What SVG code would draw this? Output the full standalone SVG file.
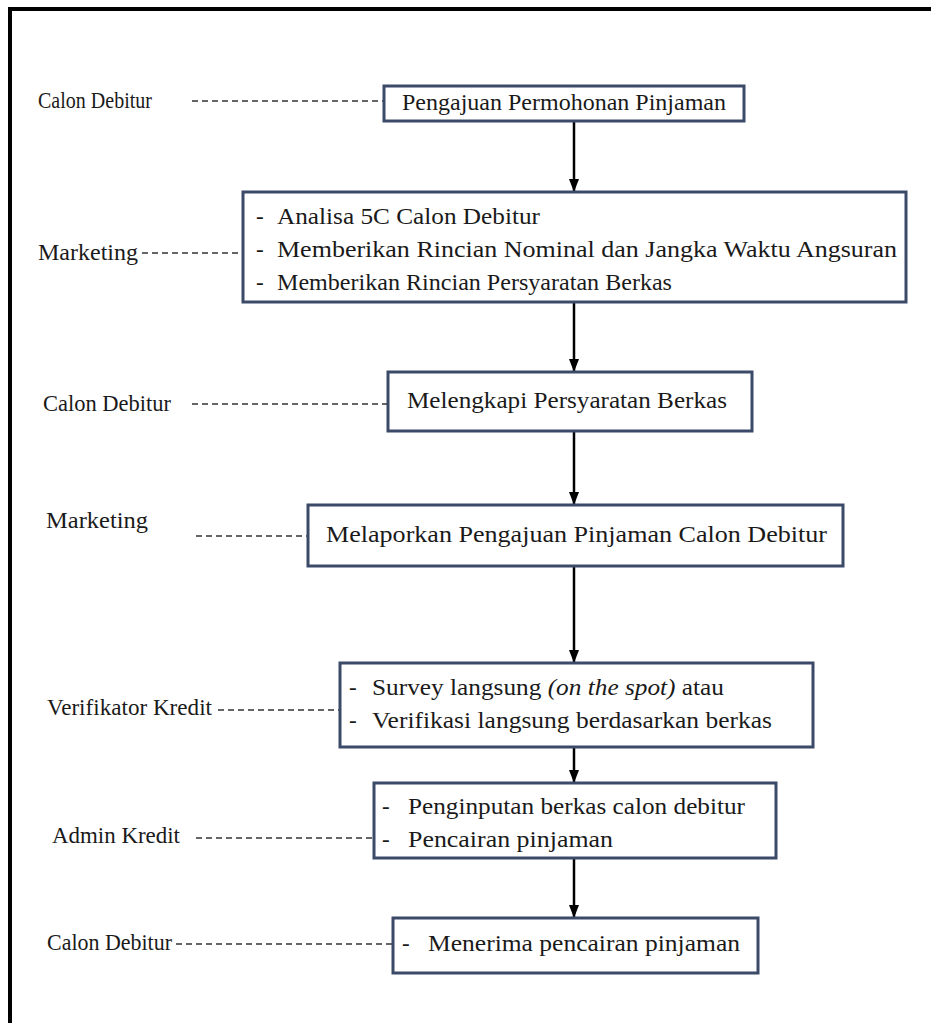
<svg xmlns="http://www.w3.org/2000/svg" width="931" height="1023" viewBox="0 0 931 1023">
<defs>
<marker id="ah" markerWidth="13" markerHeight="10" refX="12" refY="5" orient="auto" markerUnits="userSpaceOnUse" viewBox="0 0 13 10">
<path d="M0,0 L13,5 L0,10 Z" fill="#000"/>
</marker>
<style>
.box{fill:#fff;stroke:#3b4a68;stroke-width:3}
.t{font-family:"Liberation Serif","Times New Roman",Times,serif;font-size:23px;fill:#1a1a1a}
.dash{stroke:#333;stroke-width:1.5;stroke-dasharray:6 4;fill:none}
.arr{stroke:#000;stroke-width:2.5;fill:none}
</style>
</defs>
<rect width="931" height="1023" fill="#fff"/>
<path d="M10,1023 V9 H931" fill="none" stroke="#000" stroke-width="4"/>

<g id="connectors">
<line class="arr" x1="574" y1="121" x2="574" y2="191" marker-end="url(#ah)"/>
<line class="arr" x1="574" y1="302" x2="574" y2="371" marker-end="url(#ah)"/>
<line class="arr" x1="574" y1="431" x2="574" y2="504" marker-end="url(#ah)"/>
<line class="arr" x1="574" y1="566" x2="574" y2="662" marker-end="url(#ah)"/>
<line class="arr" x1="574" y1="747" x2="574" y2="782" marker-end="url(#ah)"/>
<line class="arr" x1="574" y1="858" x2="574" y2="917" marker-end="url(#ah)"/>
<line class="dash" x1="192" y1="101" x2="384" y2="101"/>
<line class="dash" x1="142" y1="253" x2="243" y2="253"/>
<line class="dash" x1="192" y1="404" x2="388" y2="404"/>
<line class="dash" x1="196" y1="536" x2="308" y2="536"/>
<line class="dash" x1="218" y1="710" x2="340" y2="710"/>
<line class="dash" x1="196" y1="838" x2="374" y2="838"/>
<line class="dash" x1="176" y1="944" x2="393" y2="944"/>
</g>

<g id="n1">
<text class="t" x="38" y="108" textLength="114" lengthAdjust="spacingAndGlyphs">Calon Debitur</text>
<rect class="box" x="384" y="86" width="360" height="35"/>
<text class="t" x="402" y="110" textLength="324" lengthAdjust="spacingAndGlyphs">Pengajuan Permohonan Pinjaman</text>
</g>

<g id="n2">
<text class="t" x="38" y="260" textLength="100" lengthAdjust="spacingAndGlyphs">Marketing</text>
<rect class="box" x="243" y="192" width="663" height="110"/>
<text class="t" x="256" y="224">-</text><text class="t" x="277" y="224" textLength="263" lengthAdjust="spacingAndGlyphs">Analisa 5C Calon Debitur</text>
<text class="t" x="256" y="257">-</text><text class="t" x="277" y="257" textLength="620" lengthAdjust="spacingAndGlyphs">Memberikan Rincian Nominal dan Jangka Waktu Angsuran</text>
<text class="t" x="256" y="290">-</text><text class="t" x="277" y="290" textLength="395" lengthAdjust="spacingAndGlyphs">Memberikan Rincian Persyaratan Berkas</text>
</g>

<g id="n3">
<text class="t" x="43" y="411" textLength="128" lengthAdjust="spacingAndGlyphs">Calon Debitur</text>
<rect class="box" x="388" y="372" width="364" height="59"/>
<text class="t" x="407" y="408" textLength="320" lengthAdjust="spacingAndGlyphs">Melengkapi Persyaratan Berkas</text>
</g>

<g id="n4">
<text class="t" x="46" y="528" textLength="102" lengthAdjust="spacingAndGlyphs">Marketing</text>
<rect class="box" x="308" y="505" width="535" height="61"/>
<text class="t" x="326" y="542" textLength="501" lengthAdjust="spacingAndGlyphs">Melaporkan Pengajuan Pinjaman Calon Debitur</text>
</g>

<g id="n5">
<text class="t" x="47" y="715" textLength="165" lengthAdjust="spacingAndGlyphs">Verifikator Kredit</text>
<rect class="box" x="340" y="663" width="473" height="84"/>
<text class="t" x="349" y="695">-</text><text class="t" x="372" y="695" textLength="352" lengthAdjust="spacingAndGlyphs">Survey langsung <tspan font-style="italic">(on the spot)</tspan> atau</text>
<text class="t" x="349" y="728">-</text><text class="t" x="372" y="728" textLength="400" lengthAdjust="spacingAndGlyphs">Verifikasi langsung berdasarkan berkas</text>
</g>

<g id="n6">
<text class="t" x="52" y="843" textLength="128" lengthAdjust="spacingAndGlyphs">Admin Kredit</text>
<rect class="box" x="374" y="783" width="402" height="75"/>
<text class="t" x="382" y="814">-</text><text class="t" x="408" y="814" textLength="337" lengthAdjust="spacingAndGlyphs">Penginputan berkas calon debitur</text>
<text class="t" x="382" y="847">-</text><text class="t" x="408" y="847" textLength="205" lengthAdjust="spacingAndGlyphs">Pencairan pinjaman</text>
</g>

<g id="n7">
<text class="t" x="47" y="950" textLength="125" lengthAdjust="spacingAndGlyphs">Calon Debitur</text>
<rect class="box" x="393" y="918" width="365" height="55"/>
<text class="t" x="402" y="951">-</text><text class="t" x="428" y="951" textLength="312" lengthAdjust="spacingAndGlyphs">Menerima pencairan pinjaman</text>
</g>
</svg>
